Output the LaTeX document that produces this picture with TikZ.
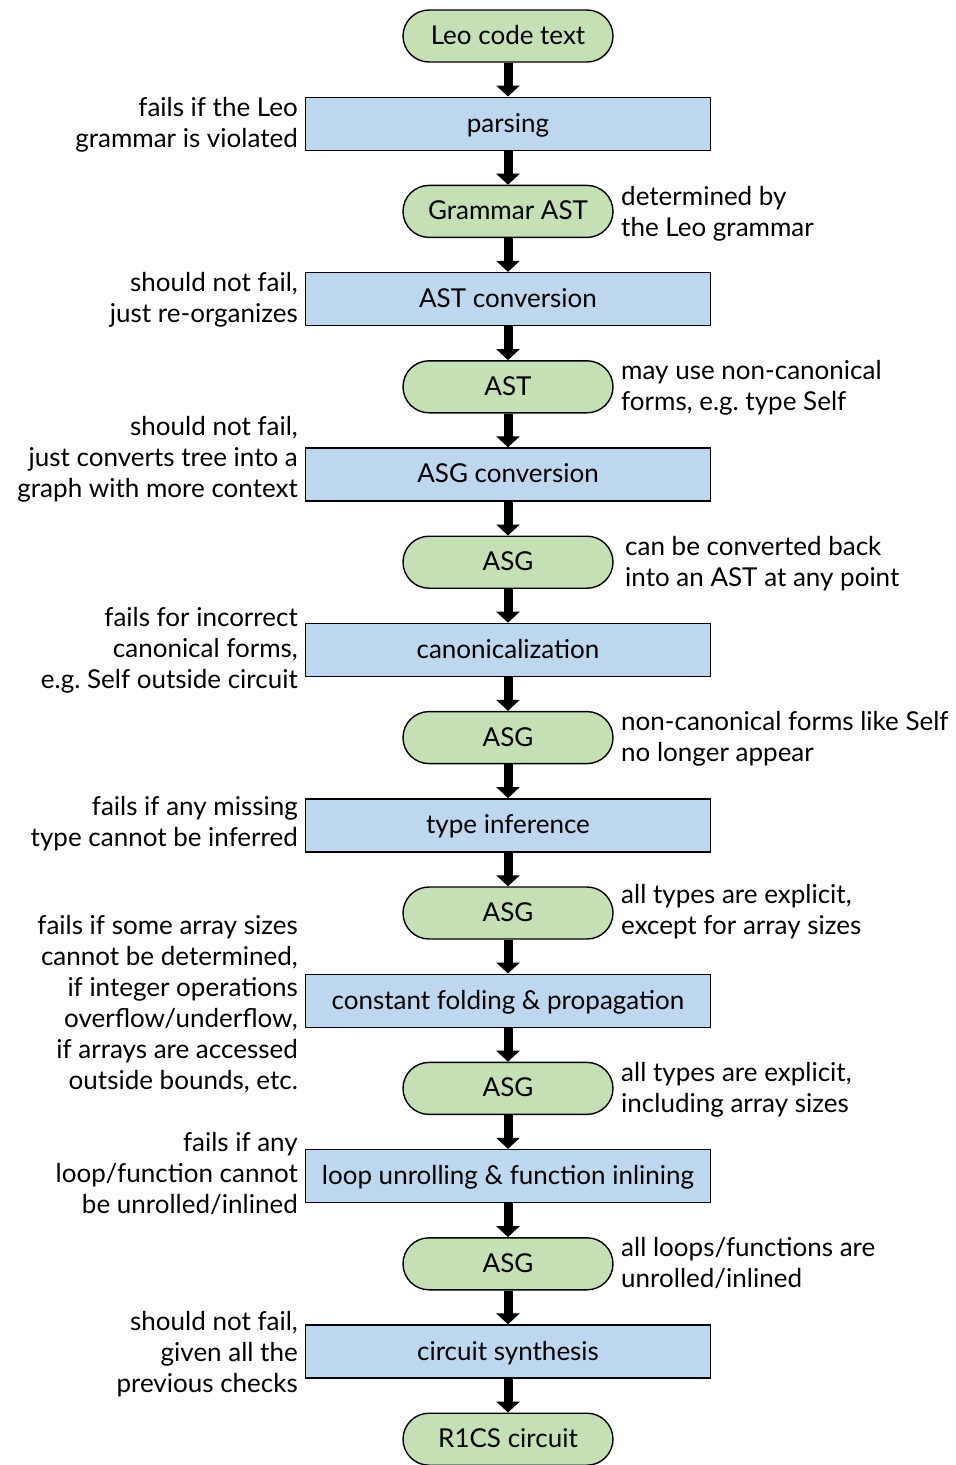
\documentclass[tikz,border=0pt]{standalone}
\usepackage{fontspec}
\setmainfont{Lato}
\usetikzlibrary{arrows.meta}
\definecolor{tgreen}{HTML}{C5E0B4}
\definecolor{pblue}{HTML}{BDD7EE}
\begin{document}
\begin{tikzpicture}[x=1pt,y=-1pt,
  every node/.style={font=\fontsize{26}{31}\selectfont},
  term/.style={draw=black,line width=1.4pt,fill=tgreen,rounded corners=26pt,minimum width=210pt,minimum height=52pt,inner sep=0pt,text depth=2pt},
  proc/.style={draw=black,line width=1.4pt,fill=pblue,minimum width=405pt,minimum height=53pt,inner sep=0pt,text depth=2pt},
  flow/.style={line width=9pt,-{Triangle[length=11pt,width=23pt]}},
  lnote/.style={anchor=east,align=right,inner sep=0pt},
  rnote/.style={anchor=west,align=left,inner sep=0pt}]
\useasboundingbox (0,0) rectangle (956,1465);
% main chain
\node[term] (n0) at (508,36) {Leo code text};
\node[proc] (n1) at (508,123.7) {parsing};
\node[term] (n2) at (508,211.4) {Grammar AST};
\node[proc] (n3) at (508,299.1) {AST conversion};
\node[term] (n4) at (508,386.8) {AST};
\node[proc] (n5) at (508,474.5) {ASG conversion};
\node[term] (n6) at (508,562.2) {ASG};
\node[proc] (n7) at (508,649.9) {canonicalization};
\node[term] (n8) at (508,737.6) {ASG};
\node[proc] (n9) at (508,825.3) {type inference};
\node[term] (n10) at (508,913) {ASG};
\node[proc] (n11) at (508,1000.7) {constant folding \& propagation};
\node[term] (n12) at (508,1088.4) {ASG};
\node[proc] (n13) at (508,1176.1) {loop unrolling \& function inlining};
\node[term] (n14) at (508,1263.8) {ASG};
\node[proc] (n15) at (508,1351.5) {circuit synthesis};
\node[term] (n16) at (508,1439.2) {R1CS circuit};
% arrows
\draw[flow] (n0) -- (n1);
\draw[flow] (n1) -- (n2);
\draw[flow] (n2) -- (n3);
\draw[flow] (n3) -- (n4);
\draw[flow] (n4) -- (n5);
\draw[flow] (n5) -- (n6);
\draw[flow] (n6) -- (n7);
\draw[flow] (n7) -- (n8);
\draw[flow] (n8) -- (n9);
\draw[flow] (n9) -- (n10);
\draw[flow] (n10) -- (n11);
\draw[flow] (n11) -- (n12);
\draw[flow] (n12) -- (n13);
\draw[flow] (n13) -- (n14);
\draw[flow] (n14) -- (n15);
\draw[flow] (n15) -- (n16);
% left notes
\node[lnote] (l1) at (298,125) {fails if the Leo\\grammar is violated};
\node[lnote] (l3) at (298,300) {should not fail,\\just re-organizes};
\node[lnote] (l5) at (298,459) {should not fail,\\just converts tree into a\\graph with more context};
\node[lnote] (l7) at (298,650) {fails for incorrect\\canonical forms,\\e.g.\ Self outside circuit};
\node[lnote] (l9) at (298,824) {fails if any missing\\type cannot be inferred};
\node[lnote] (l11) at (298,1004) {fails if some array sizes\\cannot be determined,\\if integer operations\\overflow/underflow,\\if arrays are accessed\\outside bounds, etc.};
\node[lnote] (l13) at (298,1173) {fails if any\\loop/function cannot\\be unrolled/inlined};
\node[lnote] (l15) at (298,1354) {should not fail,\\given all the\\previous checks};
% right notes
\node[rnote] (r2) at (621,214) {determined by\\the Leo grammar};
\node[rnote] (r4) at (621,388) {may use non-canonical\\forms, e.g.\ type Self};
\node[rnote] (r6) at (625,564) {can be converted back\\into an AST at any point};
\node[rnote] (r8) at (621,739) {non-canonical forms like Self\\no longer appear};
\node[rnote] (r10) at (621,912) {all types are explicit,\\except for array sizes};
\node[rnote] (r12) at (621,1090) {all types are explicit,\\including array sizes};
\node[rnote] (r14) at (621,1263) {all loops/functions are\\unrolled/inlined};
\end{tikzpicture}
\end{document}
